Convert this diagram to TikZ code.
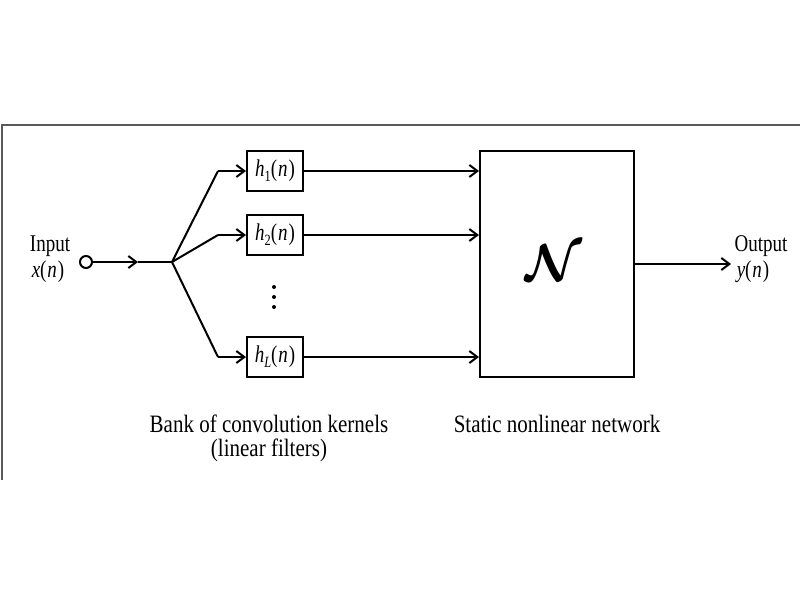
\documentclass[tikz,border=0pt]{standalone}
\usepackage{fontspec}
\setmainfont{Liberation Serif}
\usepackage{amsmath}
\usetikzlibrary{arrows.meta}
\newcommand{\tall}[1]{\scalebox{0.95}[1.2]{#1}}
\newcommand{\wtall}[1]{\scalebox{1.05}[1.25]{#1}}
\newcommand{\sub}[1]{\raisebox{-4pt}{\fontsize{13}{13}\selectfont #1}}
\newcommand{\pn}{(\kern1pt\textit{n}\kern1pt)}
\begin{document}
\begin{tikzpicture}[x=1pt,y=-1pt,
  conn/.style={line width=2pt},
  arr/.style={line width=2pt,-{Straight Barb[length=8pt,width=12pt,line width=2pt]}},
  filt/.style={draw,line width=2pt,minimum width=56pt,minimum height=40pt,inner sep=0pt,font=\fontsize{20}{20}\selectfont},
  lbl/.style={font=\fontsize{20}{25}\selectfont,align=center},
  frame/.style={draw=black!65,line width=1.5pt},
  dotm/.style={fill,circle,inner sep=0pt,minimum size=4pt}]
\useasboundingbox (0,0) rectangle (800,600);
\draw[frame] (800,125) -- (2,125) -- (2,480);
% input
\node[draw,circle,line width=2pt,minimum size=12pt,inner sep=0pt] (in) at (86,262) {};
\node[lbl] (inlbl) at (50,246) {\tall{Input}};
\node[lbl] (xn) at (48,272) {\tall{\textit{x}\pn}};
\coordinate (mid) at (138,262);
\coordinate (j) at (172,262);
\draw[arr] (in) -- (mid);
\draw[conn] (mid) -- (j);
% filters
\node[filt] (h1) at (275,171) {\tall{\textit{h}\sub{1}\pn}};
\node[filt] (h2) at (275,235) {\tall{\textit{h}\sub{2}\pn}};
\node[filt] (hL) at (275,357) {\tall{\textit{h}\sub{\textit{L}}\pn}};
\node[dotm] (d1) at (274,287) {};
\node[dotm] (d2) at (274,297) {};
\node[dotm] (d3) at (274,307) {};
\coordinate (c1) at (218,171);
\coordinate (c2) at (218,235);
\coordinate (cL) at (218,357);
\draw[conn] (j) -- (c1); \draw[arr] (c1) -- (h1.west);
\draw[conn] (j) -- (c2); \draw[arr] (c2) -- (h2.west);
\draw[conn] (j) -- (cL); \draw[arr] (cL) -- (hL.west);
% network
\node[draw,line width=2pt,minimum width=154pt,minimum height=226pt,inner sep=0pt] (N) at (557,264) {};
\node (Nlbl) at (554,263) {\scalebox{5.2}{$\boldsymbol{\mathcal{N}}$}};
\draw[arr] (h1.east) -- (h1.east -| N.west);
\draw[arr] (h2.east) -- (h2.east -| N.west);
\draw[arr] (hL.east) -- (hL.east -| N.west);
\coordinate (out) at (731,264);
\draw[arr] (N.east |- out) -- (out);
\node[lbl] (outlbl) at (761,246) {\tall{Output}};
\node[lbl] (yn) at (753,272) {\tall{\textit{y}\pn}};
% captions
\node[lbl] (bank) at (269,424) {\wtall{Bank of convolution kernels}};
\node[lbl] (filt) at (269,450) {\wtall{(linear filters)}};
\node[lbl] (stat) at (557,424) {\wtall{Static nonlinear network}};
\end{tikzpicture}
\end{document}
